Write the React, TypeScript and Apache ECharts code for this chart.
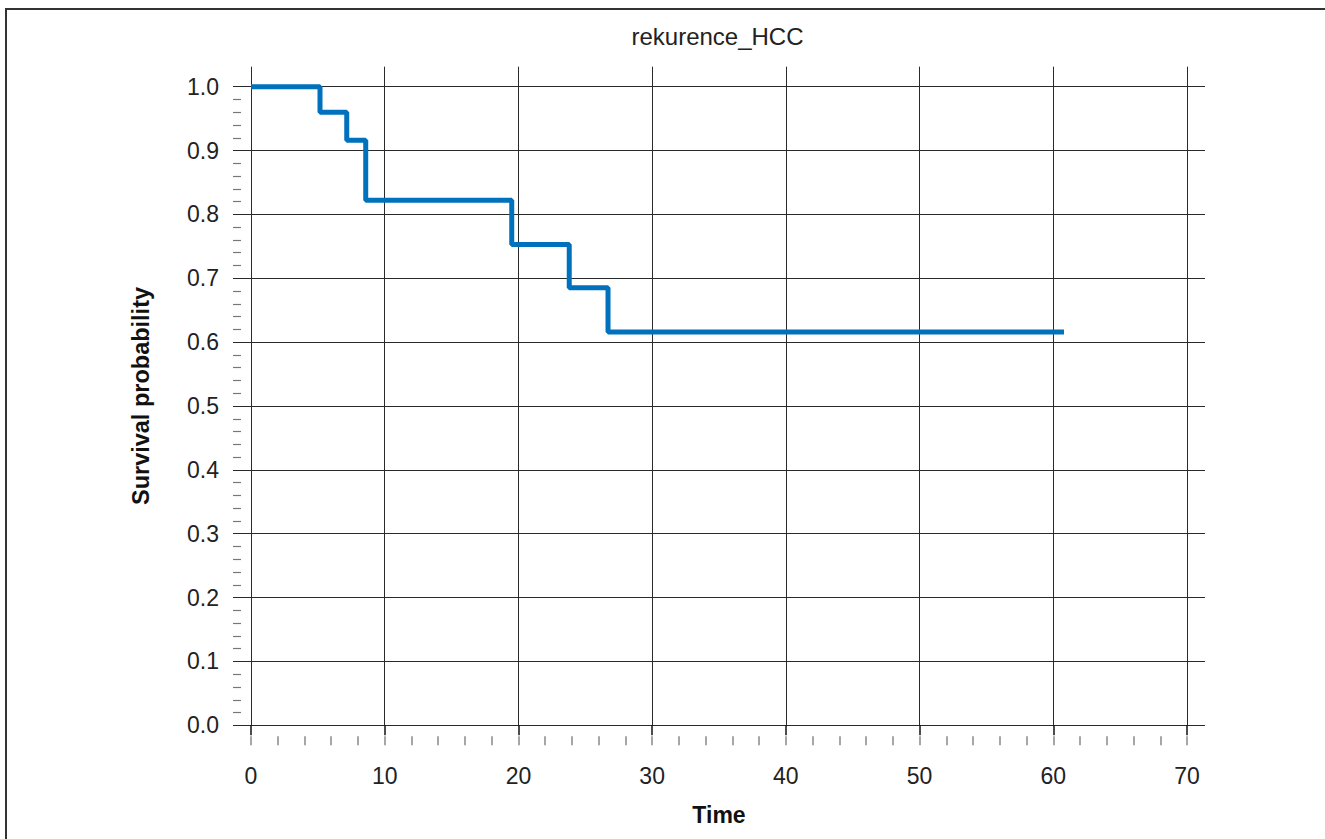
import React, { useEffect, useRef } from "react";
import * as echarts from "echarts";

const chartTitle = "rekurence_HCC";
const xName = "Time";
const yName = "Survival probability";
const times = [0, 5.16, 7.16, 8.58, 19.5, 23.8, 26.7, 60.8];
const survival = [1.0, 0.96, 0.916, 0.822, 0.753, 0.685, 0.616, 0.616];
const xMajorTicks = [0, 10, 20, 30, 40, 50, 60, 70];
const yMinorTicks = [
  0.02, 0.04, 0.06, 0.08, 0.12, 0.14, 0.16, 0.18, 0.22, 0.24, 0.26, 0.28,
  0.32, 0.34, 0.36, 0.38, 0.42, 0.44, 0.46, 0.48, 0.52, 0.54, 0.56, 0.58,
  0.62, 0.64, 0.66, 0.68, 0.72, 0.74, 0.76, 0.78, 0.82, 0.84, 0.86, 0.88,
  0.92, 0.94, 0.96, 0.98,
];

const FONT = "'Liberation Sans', Arial, Helvetica, sans-serif";
const TEXT = "#222";
const GRID = "#2a2a2a";

export default function App() {
  const ref = useRef<HTMLDivElement>(null);
  useEffect(() => {
    if (!ref.current) return;
    const chart = echarts.init(ref.current, null, { renderer: "svg" });
    const top = 66.7;
    const bottom = 839 - 725.3;
    const yMax = (725.3 - 66.7) / 638.6;
    const data = times.map((t, i) => [t, survival[i]]);
    chart.setOption({
      animation: false,
      backgroundColor: "#fff",
      textStyle: { fontFamily: FONT },
      graphic: [
        {
          type: "rect",
          shape: { x: 6, y: 9, width: 1400, height: 1000 },
          style: { fill: "none", stroke: "#333", lineWidth: 2 },
          silent: true,
        },
        {
          type: "text",
          x: 717.5,
          y: 36.7,
          style: {
            text: chartTitle,
            fill: TEXT,
            fontSize: 24,
            fontFamily: FONT,
            align: "center",
            verticalAlign: "middle",
          },
        },
      ],
      grid: [
        { left: 233, right: 120, top, bottom },
        { left: 251, right: 138, top, bottom },
        { left: 233, right: 120, top: 86.7, bottom },
      ],
      xAxis: [
        {
          gridIndex: 0,
          type: "value",
          min: -1.346,
          max: 71.346,
          show: false,
        },
        {
          gridIndex: 1,
          type: "value",
          min: 0,
          max: 70,
          interval: 10,
          position: "bottom",
          offset: 11,
          axisLine: { show: false },
          axisTick: { show: true, length: 10, lineStyle: { color: "#111", width: 1.5 } },
          axisLabel: {
            margin: 28,
            fontSize: 23,
            color: TEXT,
            fontFamily: FONT,
            customValues: xMajorTicks,
          },
          splitLine: { show: true, lineStyle: { color: GRID, width: 1 } },
          name: xName,
          nameLocation: "middle",
          nameGap: 67,
          nameTextStyle: { fontSize: 23, fontWeight: "bold", color: "#111", fontFamily: FONT },
        },
        {
          gridIndex: 1,
          type: "value",
          min: 0,
          max: 70,
          interval: 2,
          position: "bottom",
          offset: 11,
          axisLine: { show: false },
          axisTick: { show: true, length: 9, lineStyle: { color: "#888", width: 1.5 } },
          axisLabel: { show: false },
          splitLine: { show: false },
        },
        {
          gridIndex: 2,
          type: "value",
          min: 0,
          max: 70,
          show: false,
        },
      ],
      yAxis: [
        {
          gridIndex: 0,
          type: "value",
          min: 0,
          max: yMax,
          interval: 0.1,
          axisLine: { show: false },
          axisTick: { show: false },
          axisLabel: {
            margin: 14,
            fontSize: 23,
            color: TEXT,
            fontFamily: FONT,
            showMaxLabel: false,
            formatter: (v: number) => v.toFixed(1),
          },
          splitLine: {
            show: true,
            showMaxLine: false,
            lineStyle: { color: GRID, width: 1 },
          },
          name: yName,
          nameLocation: "middle",
          nameRotate: 90,
          nameGap: 80,
          nameTextStyle: { fontSize: 23.5, fontWeight: "bold", color: "#111", fontFamily: FONT },
        },
        {
          gridIndex: 1,
          type: "value",
          min: 0,
          max: yMax,
          show: false,
        },
        {
          gridIndex: 2,
          type: "value",
          min: 0,
          max: 1,
          axisLine: { show: false },
          axisTick: {
            show: true,
            inside: true,
            length: 8,
            customValues: yMinorTicks,
            lineStyle: { color: "#777", width: 1.2 },
          },
          axisLabel: { show: false },
          splitLine: { show: false },
        },
      ],
      series: [
        {
          type: "line",
          xAxisIndex: 1,
          yAxisIndex: 1,
          data,
          step: "end",
          symbol: "none",
          showSymbol: false,
          lineStyle: { color: "#0071BC", width: 5 },
          silent: true,
        },
      ],
    });
    return () => chart.dispose();
  }, []);
  return (
    <div
      ref={ref}
      style={{ position: "fixed", left: 0, top: 0, width: 1325, height: 839 }}
    />
  );
}
